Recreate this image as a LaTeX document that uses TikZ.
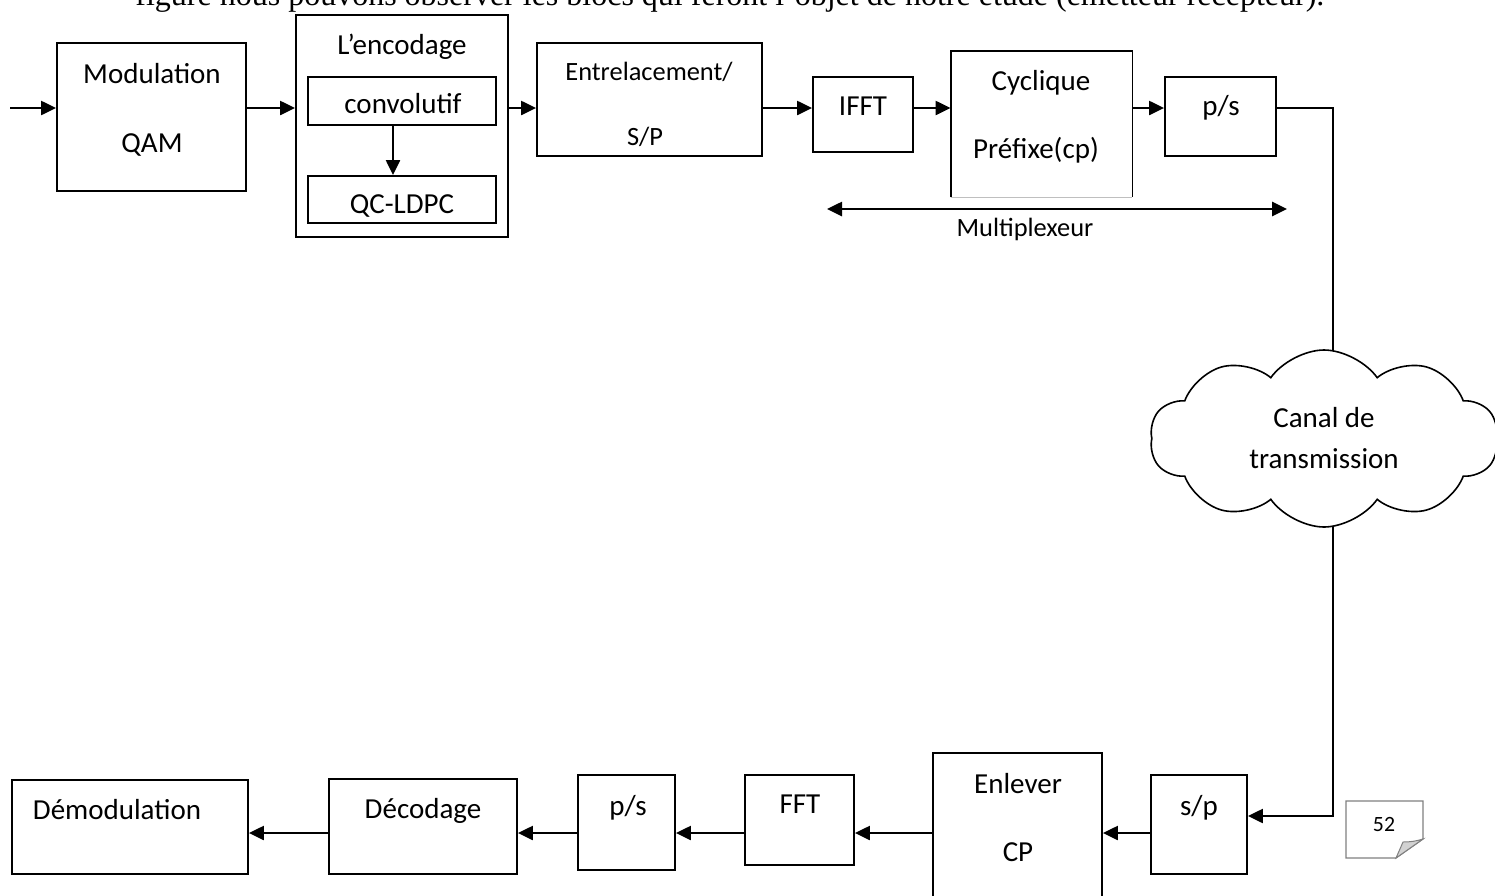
\documentclass[tikz,border=0pt]{standalone}
\usepackage{fontspec}
\setmainfont{Carlito}
\newfontfamily\serifline{Liberation Serif}
\usetikzlibrary{arrows.meta,shapes.symbols,backgrounds}

\begin{document}
\begin{tikzpicture}[x=0.5pt, y=-0.5pt,
	block/.style={draw, line width=0.9pt, inner sep=0pt},
	lbl/.style={anchor=base, inner sep=0pt, font=\fontsize{14.5}{17}\selectfont},
	small lbl/.style={lbl, font=\fontsize{13.2}{16}\selectfont},
	arr/.style={line width=1.1pt, -{Triangle[length=7.5pt,width=7pt]}},
	link/.style={line width=0.6pt}]
	\useasboundingbox (0,0) rectangle (1495,895);
	\clip (0,0) rectangle (1495,895);

	% Rows of the arrows
	\coordinate (rowa) at (0,108);
	\coordinate (rowb) at (0,833);
	\coordinate (rowc) at (0,816);
	\coordinate (in) at (10,108);
	\coordinate (bend) at (1333,108);

	% Text line above the figure
	\node[anchor=base west, inner sep=0pt, font=\serifline\fontsize{16}{19}\selectfont] (intro) at (135,5) {figure nous pouvons observer les blocs qui feront l’objet de notre étude (émetteur récepteur).};

	% Emetteur
	\node[block, minimum width=94.5pt, minimum height=74pt] (mod) at (151.5,117) {};
	\node[lbl] (mod1) at (152,83) {Modulation};
	\node[lbl] (mod2) at (152,152) {QAM};

	\node[block, minimum width=106pt, minimum height=111pt] (enc) at (402,126) {};
	\node[lbl] (enc1) at (402,54) {L’encodage};
	\node[block, minimum width=94pt, minimum height=24pt] (conv) at (402,101) {};
	\node[lbl] (conv1) at (403,113) {convolutif};
	\node[block, minimum width=94pt, minimum height=23.5pt] (qc) at (402,199.5) {};
	\node[lbl] (qc1) at (402,213) {QC-LDPC};
	\draw[arr] ([xshift=-4.5pt]conv.south) -- ([xshift=-4.5pt]qc.north);

	\node[block, minimum width=112.5pt, minimum height=56.5pt] (entr) at (649.5,99.5) {};
	\node[small lbl] (entr1) at (649,80) {Entrelacement/};
	\node[small lbl] (entr2) at (645,145) {S/P};

	\node[block, minimum width=50pt, minimum height=37.5pt] (ifft) at (863,114.5) {};
	\node[lbl] (ifft1) at (863,115) {IFFT};

	\node[minimum width=90.5pt, minimum height=73pt, inner sep=0pt] (cyc) at (1041.5,124) {};
	\draw[line width=0.9pt] (cyc.south west) -- (cyc.north west) -- (cyc.north east) -- (cyc.south east);
	\draw[gray!50, line width=0.7pt] (cyc.south west) -- (cyc.south east);
	\node[lbl] (cyc1) at (1041,90) {Cyclique};
	\node[lbl] (cyc2) at (1036,158) {Préfixe(cp)};

	\node[block, minimum width=55.5pt, minimum height=39.5pt] (ps) at (1220.5,116.5) {};
	\node[lbl] (ps1) at (1221,115) {p/s};

	\draw[arr] (in) -- (mod.west |- rowa);
	\draw[arr] (mod.east |- rowa) -- (enc.west |- rowa);
	\draw[arr] (enc.east |- rowa) -- (entr.west |- rowa);
	\draw[arr] (entr.east |- rowa) -- (ifft.west |- rowa);
	\draw[arr] (ifft.east |- rowa) -- (cyc.west |- rowa);
	\draw[arr] (cyc.east |- rowa) -- (ps.west |- rowa);

	% Multiplexeur
	\coordinate (mxl) at (827,209);
	\coordinate (mxr) at (1287,209);
	\draw[line width=1.3pt, {Triangle[length=7.5pt,width=7pt]}-{Triangle[length=7.5pt,width=7pt]}] (mxl) -- (mxr);
	\node[small lbl] (mx1) at (1025,236) {Multiplexeur};

	% Canal
	\node[cloud, draw, fill=white, line width=0.8pt, cloud puffs=10, cloud puff arc=110, cloud ignores aspect,
		minimum width=174pt, minimum height=88.5pt, inner sep=0pt, align=center,
		font=\fontsize{14.5}{20.5}\selectfont] (cl) at (1324,438.5) {Canal de\\transmission};

	% Recepteur
	\node[block, minimum width=48pt, minimum height=49.5pt] (sp) at (1199,824.5) {};
	\node[lbl] (sp1) at (1199,815) {s/p};

	\node[block, minimum width=84.5pt, minimum height=76pt] (enl) at (1017.5,829) {};
	\node[lbl] (enl1) at (1018,793) {Enlever};
	\node[lbl] (enl2) at (1018,861) {CP};

	\node[block, minimum width=54.5pt, minimum height=45pt] (fft) at (799.5,820) {};
	\node[lbl] (fft1) at (800,813) {FFT};

	\node[block, minimum width=48.5pt, minimum height=47.5pt] (ps2) at (626.5,822.5) {};
	\node[lbl] (ps21) at (628,815) {p/s};

	\node[block, minimum width=94pt, minimum height=47.5pt] (dec) at (423,826.5) {};
	\node[lbl] (dec1) at (423,818) {Décodage};

	\node[block, minimum width=118pt, minimum height=47pt] (demod) at (130,827) {};
	\node[lbl] (demod1) at (117,819) {Démodulation};

	\draw[arr] (sp.west |- rowb) -- (enl.east |- rowb);
	\draw[arr] (enl.west |- rowb) -- (fft.east |- rowb);
	\draw[arr] (fft.west |- rowb) -- (ps2.east |- rowb);
	\draw[arr] (ps2.west |- rowb) -- (dec.east |- rowb);
	\draw[arr] (dec.west |- rowb) -- (demod.east |- rowb);

	% Liaison par le canal
	\begin{scope}[on background layer]
		\draw[link] (ps.east |- rowa) -- (bend) -- (bend |- cl.center);
		\draw[arr] (bend |- cl.center) |- (sp.east |- rowc);
	\end{scope}

	% Page 52
	\draw[gray, line width=0.6pt, fill=white] (1346,801) -- (1423,801) -- (1423,839) -- (1396,858) -- (1346,858) -- cycle;
	\draw[gray, line width=0.5pt, fill=gray!35] (1423,839) to[bend left=8] (1403,842) -- (1396,858) -- cycle;
	\node[anchor=base, inner sep=0pt, font=\fontsize{10.9}{13}\selectfont] (pg) at (1384,831) {52};
\end{tikzpicture}
\end{document}
